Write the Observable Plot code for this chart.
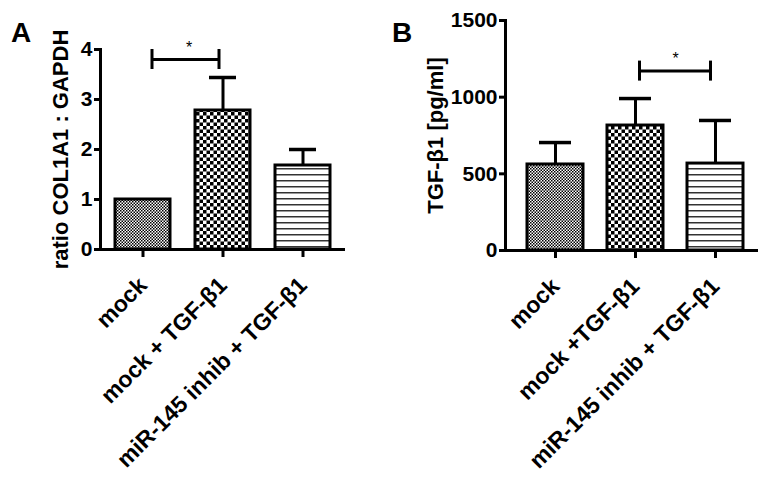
<!DOCTYPE html>
<html>
<head>
<meta charset="utf-8">
<script src="https://cdn.jsdelivr.net/npm/d3@7"></script>
<script src="https://cdn.jsdelivr.net/npm/@observablehq/plot@0.6"></script>
<style>
  html, body { margin: 0; padding: 0; background: #fff; }
  #wrap { position: relative; width: 769px; height: 484px; overflow: hidden; font-family: "Liberation Sans", Arial, sans-serif; }
  #panelA { position: absolute; left: 0; top: 0; }
  #panelB { position: absolute; left: 380px; top: 0; }
  .letter { position: absolute; font-weight: bold; font-size: 28px; line-height: 1; color: #000; }
</style>
</head>
<body>
<svg width="0" height="0" style="position:absolute">
  <defs>
    <pattern id="fine" patternUnits="userSpaceOnUse" width="3" height="3">
      <rect width="3" height="3" fill="#fff"/>
      <rect x="0" y="0" width="1.5" height="1.5" fill="#000"/>
      <rect x="1.5" y="1.5" width="1.5" height="1.5" fill="#000"/>
    </pattern>
    <pattern id="check" patternUnits="userSpaceOnUse" width="7" height="7">
      <rect width="7" height="7" fill="#fff"/>
      <rect x="0" y="0" width="3.5" height="3.5" fill="#000"/>
      <rect x="3.5" y="3.5" width="3.5" height="3.5" fill="#000"/>
    </pattern>
    <pattern id="stripe" patternUnits="userSpaceOnUse" width="6" height="6">
      <rect width="6" height="6" fill="#fff"/>
      <rect x="0" y="0" width="6" height="1.5" fill="#333"/>
    </pattern>
  </defs>
</svg>
<div id="wrap">
  <div id="panelA"></div>
  <div id="panelB"></div>
  <div class="letter" style="left:11px; top:19px;">A</div>
  <div class="letter" style="left:392px; top:19px;">B</div>
</div>
<script>
// ---- Data ----
const categoriesA = ["mock", "mock + TGF-β1", "miR-145 inhib + TGF-β1"];
const meansA = [1.0, 2.78, 1.68];
const errorsA = [0, 0.66, 0.32];
const ticksA = [0, 1, 2, 3, 4];
const sigA = [{from: "mock", to: "mock + TGF-β1", y: 3.8, label: "*"}];

const categoriesB = ["mock", "mock +TGF-β1", "miR-145 inhib + TGF-β1"];
const meansB = [561, 815, 567];
const errorsB = [143, 176, 281];
const ticksB = [0, 500, 1000, 1500];
const sigB = [{from: "mock +TGF-β1", to: "miR-145 inhib + TGF-β1", y: 1170, label: "*"}];

const patterns = ["url(#fine)", "url(#check)", "url(#stripe)"];

function rowsOf(cats, means, errs) {
  return cats.map((c, i) => ({cat: c, mean: means[i], upper: means[i] + errs[i], err: errs[i], fill: patterns[i]}));
}

function panel(opts) {
  const rows = rowsOf(opts.cats, opts.means, opts.errs);
  const withErr = rows.filter(d => d.err > 0);
  const bw = opts.bw;
  return Plot.plot({
    width: opts.width,
    height: 484,
    marginLeft: opts.ml,
    marginRight: opts.mr,
    marginTop: opts.mt,
    marginBottom: opts.mb,
    style: {fontFamily: "'Liberation Sans', Arial, sans-serif", fontWeight: "bold", fontSize: "21px", color: "#000", background: "transparent", overflow: "visible"},
    x: {domain: opts.cats, paddingInner: opts.pi, paddingOuter: opts.po, align: opts.align},
    y: {domain: opts.ydomain},
    color: {type: "identity"},
    marks: [
      Plot.barY(rows, {x: "cat", y: "mean", fill: "fill", stroke: "#000", strokeWidth: 3}),
      Plot.ruleX(withErr, {x: "cat", y1: "mean", y2: "upper", stroke: "#000", strokeWidth: 3}),
      Plot.tickY(withErr, {x: "cat", y: "upper", stroke: "#000", strokeWidth: 3.5, insetLeft: opts.capInset, insetRight: opts.capInset}),
      Plot.ruleY(opts.sig, {x1: "from", x2: "to", y: "y", stroke: "#000", strokeWidth: 3, insetLeft: bw / 2 + opts.sigL, insetRight: bw / 2 + opts.sigR}),
      Plot.ruleX(opts.sig, {x: "from", y1: "y", y2: "y", dx: opts.sigL, insetTop: -10, insetBottom: -10, stroke: "#000", strokeWidth: 3}),
      Plot.ruleX(opts.sig, {x: "to", y1: "y", y2: "y", dx: -opts.sigR, insetTop: -10, insetBottom: -10, stroke: "#000", strokeWidth: 3}),
      Plot.text(opts.sig, {x: "from", y: "y", text: "label", dx: opts.starDx, dy: -12, fontSize: 16, fontWeight: "normal"}),
      Plot.frame({anchor: "left", stroke: "#000", strokeWidth: 3}),
      Plot.ruleY([0], {stroke: "#000", strokeWidth: 3}),
      Plot.axisY({ticks: opts.yticks, tickFormat: d3.format("d"), tickSize: 6, tickPadding: 2, strokeWidth: 3, label: null, fontSize: 21, fontWeight: "bold"}),
      Plot.text([opts.ylabel], {text: d => d, frameAnchor: "left", textAnchor: "middle", rotate: -90, dx: -opts.labelOffset, fontSize: 22, fontWeight: "bold"}),
      Plot.axisX({tickSize: 8, tickPadding: 24, strokeWidth: 3, tickRotate: -45, label: null, fontSize: 23, fontWeight: "bold"})
    ]
  });
}

document.getElementById("panelA").appendChild(panel({
  cats: categoriesA, means: meansA, errs: errorsA, ydomain: [0, 4], yticks: ticksA,
  width: 380, ml: 100, mr: 35, mt: 49, mb: 235, pi: 0.317, po: 0.18, align: 0.5, bw: 55,
  capInset: 14, sig: sigA, sigL: 9, sigR: 4, starDx: 46,
  ylabel: "ratio COL1A1 : GAPDH", labelOffset: 40
}));

document.getElementById("panelB").appendChild(panel({
  cats: categoriesB, means: meansB, errs: errorsB, ydomain: [0, 1500], yticks: ticksB,
  width: 389, ml: 125, mr: 11, mt: 20, mb: 234, pi: 0.296, po: 0.21, align: 0.59, bw: 57,
  capInset: 12, sig: sigB, sigL: 4, sigR: 5, starDx: 40,
  ylabel: "TGF-β1 [pg/ml]", labelOffset: 70
}));
</script>
</body>
</html>
